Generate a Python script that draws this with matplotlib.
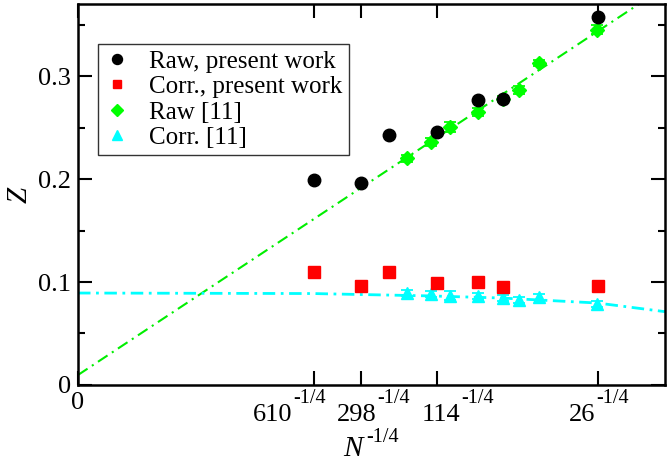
import matplotlib
matplotlib.use("Agg")
import matplotlib.pyplot as plt
from matplotlib.ticker import MultipleLocator

plt.rcParams['font.family'] = ['Liberation Serif', 'DejaVu Serif']

# x positions are N^(-1/4)
N_present = [610, 298, 202, 114, 74, 58, 26]
raw_present = [0.1994, 0.1965, 0.2423, 0.2455, 0.2765, 0.2781, 0.3574]
corr_present = [0.1097, 0.0961, 0.1100, 0.0990, 0.1003, 0.0948, 0.0961]

x_ref = [0.2800, 0.3008, 0.3168, 0.3409, 0.3623, 0.3758, 0.3926, 0.4425]
raw_ref = [0.2200, 0.2361, 0.2506, 0.2648, 0.2781, 0.2861, 0.3123, 0.3452]
raw_ref_err = [0.003, 0.004, 0.005, 0.004, 0.003, 0.004, 0.003, 0.004]
corr_ref = [0.0890, 0.0884, 0.0868, 0.0868, 0.0848, 0.0823, 0.0855, 0.0790]
corr_ref_err = [0.003, 0.003, 0.004, 0.003, 0.003, 0.003, 0.003, 0.003]

# fit lines
fit_raw_x = [0.0, 0.5]
fit_raw_y = [0.0097, 0.3867]
fit_corr_x = [0.0, 0.2, 0.3, 0.36, 0.4425, 0.5]
fit_corr_y = [0.0893, 0.0888, 0.0865, 0.0845, 0.0796, 0.0712]

tick_N = ['610', '298', '114', '26']
# hand placed label offsets (pixels) from each tick, as in the original
tick_label_shift = [-22, 16, 23, -3]

x_present = [int(n) ** -0.25 for n in N_present]

fig = plt.figure(figsize=(6.7, 4.63), dpi=100)
ax = fig.add_axes([0.1164, 0.1685, 0.8761, 0.8229])

ax.plot(fit_raw_x, fit_raw_y, color='#00ee00', lw=1.5, dashes=(5.5, 2.5, 1, 2.5))
ax.plot(fit_corr_x, fit_corr_y, color='#00ffff', lw=2.0, dashes=(4.5, 2, 1, 2))

ax.errorbar(x_ref, raw_ref, yerr=raw_ref_err, fmt='none', ecolor='#00ff00',
            capsize=4, elinewidth=1.3, capthick=1.3, zorder=3)
ax.errorbar(x_ref, corr_ref, yerr=corr_ref_err, fmt='none', ecolor='#00ffff',
            capsize=4, elinewidth=1.3, capthick=1.3, zorder=3)
ax.plot(x_present, raw_present, 'o', color='black', ms=9,
        label='Raw, present work', zorder=4)
ax.plot(x_present, corr_present, 's', color='red', ms=8,
        label='Corr., present work', zorder=4)
ax.plot(x_ref, raw_ref, 'D', color='#00ff00', ms=7.5, label='Raw [11]', zorder=3)
ax.plot(x_ref, corr_ref, '^', color='#00ffff', ms=9, label='Corr. [11]', zorder=3)

ax.set_xlim(0, 0.5)
ax.set_ylim(0, 0.37)

tick_x = [int(n) ** -0.25 for n in tick_N]
ax.set_xticks([0] + tick_x)
ax.set_xticklabels(['0'] + [''] * len(tick_x))
for xv, lab, dx in zip(tick_x, tick_N, tick_label_shift):
    ax.annotate(lab, xy=(xv, 0), xytext=(dx, -36), textcoords='offset pixels',
                ha='right', va='baseline', fontsize=19, annotation_clip=False)
    ax.annotate('-1/4', xy=(xv, 0), xytext=(dx + 1, -18), textcoords='offset pixels',
                ha='left', va='baseline', fontsize=14.5, annotation_clip=False)

ax.set_yticks([0, 0.1, 0.2, 0.3])
ax.set_yticklabels(['0', '0.1', '0.2', '0.3'])
ax.yaxis.set_minor_locator(MultipleLocator(0.05))

ax.tick_params(which='both', direction='in', top=True, right=True,
               labelsize=19, width=1.5)
ax.tick_params(which='major', length=10, pad=5)
ax.tick_params(which='minor', length=5)
for s in ax.spines.values():
    s.set_linewidth(1.8)

# axis titles
fig.text(363 / 670, 1 - 456 / 463, 'N', style='italic', fontsize=21,
         ha='right', va='baseline')
fig.text(366 / 670, 1 - 441.5 / 463, '-1/4', fontsize=14.5, ha='left', va='baseline')
ax.set_ylabel('Z', style='italic', fontsize=21, labelpad=4)

leg = ax.legend(loc='upper left', bbox_to_anchor=(0.034, 0.895), borderaxespad=0,
                fontsize=18, frameon=True, fancybox=False, edgecolor='black',
                handlelength=1.0, handletextpad=0.8, borderpad=0.25,
                labelspacing=0.12, markerscale=0.8)
leg.get_frame().set_linewidth(1.0)

fig.savefig('out.png', dpi=100)
